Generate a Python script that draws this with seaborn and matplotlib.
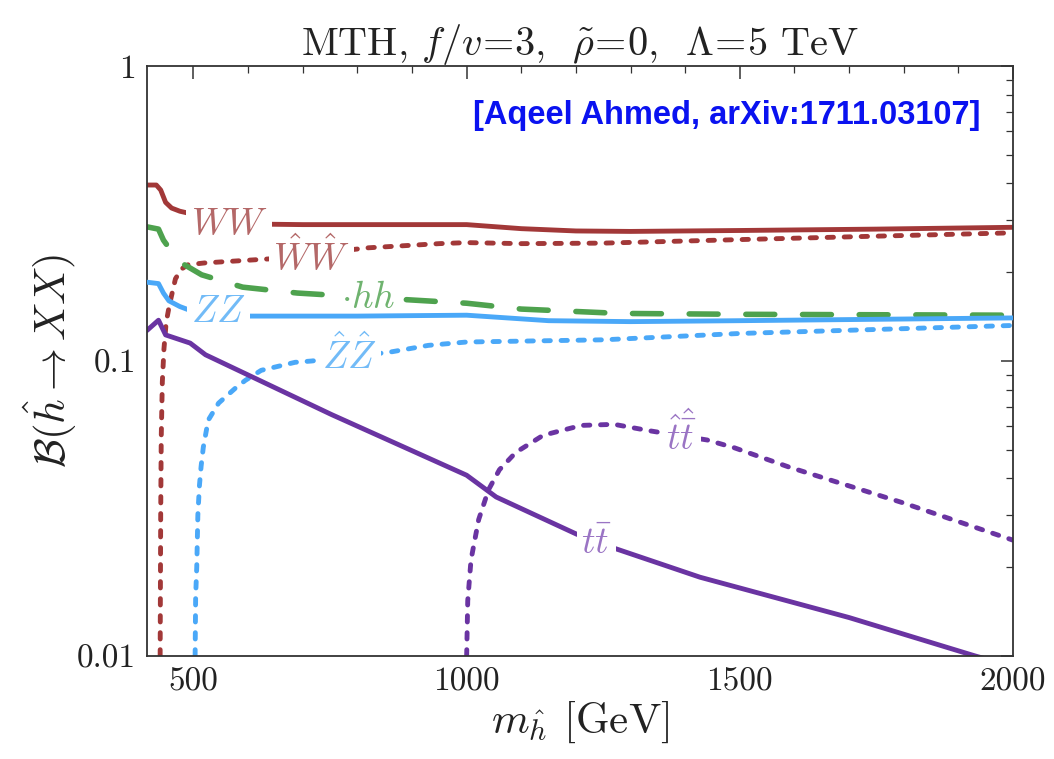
import matplotlib
matplotlib.use("Agg")
import matplotlib.pyplot as plt
import seaborn as sns
import numpy as np
from matplotlib.ticker import FixedLocator, NullFormatter, LogLocator

# Branching ratios of the twin-sector Higgs vs. its mass (GeV)
m_WW = [415, 432, 440, 449, 460, 475, 491, 520, 560, 700, 850, 1000, 1100, 1200, 1300, 1500, 1750, 2000]
br_WW = [0.395, 0.395, 0.38, 0.345, 0.33, 0.322, 0.317, 0.303, 0.292, 0.29, 0.29, 0.29, 0.281, 0.276, 0.275, 0.277, 0.28, 0.284]

m_WhWh = [439, 440, 441, 443, 446, 450, 456, 467, 478, 490, 520, 640, 820, 950, 1000, 1100, 1250, 1500, 1750, 2000]
br_WhWh = [0.01, 0.03, 0.055, 0.085, 0.11, 0.135, 0.155, 0.19, 0.205, 0.212, 0.215, 0.222, 0.242, 0.25, 0.252, 0.25, 0.251, 0.258, 0.265, 0.272]

m_hh = [415, 436, 445, 460, 478, 515, 590, 690, 900, 1000, 1100, 1280, 1500, 2000]
br_hh = [0.285, 0.28, 0.257, 0.235, 0.215, 0.196, 0.178, 0.17, 0.161, 0.157, 0.15, 0.145, 0.144, 0.143]

m_ZZ = [415, 436, 445, 455, 475, 500, 540, 800, 1000, 1150, 1300, 1500, 2000]
br_ZZ = [0.185, 0.183, 0.17, 0.16, 0.153, 0.147, 0.142, 0.142, 0.143, 0.137, 0.136, 0.137, 0.14]

m_ZhZh = [503, 504, 506, 508, 511, 514, 518, 527, 546, 577, 595, 624, 686, 716, 857, 930, 1000, 1250, 1500, 2000]
br_ZhZh = [0.01, 0.016, 0.02, 0.03, 0.038, 0.044, 0.051, 0.063, 0.072, 0.081, 0.086, 0.093, 0.099, 0.1, 0.107, 0.113, 0.116, 0.118, 0.124, 0.132]

m_tt = [415, 436, 449, 494, 522, 753, 1000, 1054, 1201, 1267, 1427, 1700, 1931, 2000]
br_tt = [0.127, 0.1375, 0.1226, 0.115, 0.105, 0.0658, 0.041, 0.0346, 0.0259, 0.0233, 0.0185, 0.0135, 0.01, 0.0092]

m_thth = [1000, 1002, 1008, 1022, 1040, 1060, 1090, 1140, 1210, 1270, 1335, 1440, 1490, 1590, 1800, 2000]
br_thth = [0.01, 0.0154, 0.0212, 0.029, 0.0366, 0.0428, 0.049, 0.056, 0.0605, 0.061, 0.058, 0.054, 0.0508, 0.0437, 0.033, 0.0247]

x_ticks = [500, 1000, 1500, 2000]
y_ticks = [0.01, 0.1, 1]
y_ticklabels = ["0.01", "0.1", "1"]

sns.set_theme(style="white")
plt.rcParams["font.family"] = ["serif"]
plt.rcParams["font.serif"] = ["cmr10", "DejaVu Serif"]
plt.rcParams["mathtext.fontset"] = "cm"
plt.rcParams["axes.formatter.use_mathtext"] = True

brown = "#a23838"
blue = "#4aa8f8"
green = "#4ea24e"
purple = "#6a34a2"

fig = plt.figure(figsize=(10.54, 7.59), dpi=100)
ax = fig.add_axes([0.1395, 0.1357, 0.8216, 0.7773])

lw = 3.5
dot = (0, (1.3, 2.2))
dash = (0, (5.2, 5.0))
solid_kw = dict(lw=lw, solid_capstyle="round", solid_joinstyle="round")
dot_kw = dict(lw=lw, linestyle=dot, dash_capstyle="round")

sns.lineplot(x=m_WW, y=br_WW, ax=ax, color=brown, **solid_kw)
sns.lineplot(x=m_WhWh, y=br_WhWh, ax=ax, color=brown, **dot_kw)
sns.lineplot(x=m_hh, y=br_hh, ax=ax, color=green, lw=4.0, linestyle=dash, dash_capstyle="round")
# ZZ sits above the hh label patch, below its own label
sns.lineplot(x=m_ZZ, y=br_ZZ, ax=ax, color=blue, zorder=6, **solid_kw)
sns.lineplot(x=m_ZhZh, y=br_ZhZh, ax=ax, color=blue, **dot_kw)
sns.lineplot(x=m_tt, y=br_tt, ax=ax, color=purple, **solid_kw)
sns.lineplot(x=m_thth, y=br_thth, ax=ax, color=purple, **dot_kw)

ax.set_yscale("log")
ax.set_xlim(415, 2000)
ax.set_ylim(0.01, 1)

# in-line curve labels, each on a white patch that breaks its own curve
lab_kw = dict(ha="center", va="center", fontsize=27, zorder=7,
              bbox=dict(boxstyle="square,pad=0.12", fc="white", ec="none"))
ax.text(565, 0.289, r"$WW$", color="#b46868", **lab_kw)
ax.text(716, 0.224, r"$\hat{W}\hat{W}$", color="#b46868", **lab_kw)
ax.text(820, 0.151, r"$\cdot hh$", color="#6fb36f", ha="center", va="baseline",
        fontsize=27, zorder=5,
        bbox=dict(boxstyle="square,pad=0.08", fc="white", ec="none"))
ax.text(546, 0.146, r"$ZZ$", color="#72bbf7", **lab_kw)
ax.text(785, 0.105, r"$\hat{Z}\hat{Z}$", color="#72bbf7", **lab_kw)
ax.text(1238, 0.0242, r"$t\bar{t}$", color="#9a74c4", **lab_kw)
ax.text(1392, 0.0565, r"$\hat{t}\hat{\bar{t}}$", color="#9a74c4", **lab_kw)

ax.text(0.962, 0.917, "[Aqeel Ahmed, arXiv:1711.03107]", transform=ax.transAxes,
        ha="right", va="center", color="#0a12f0", fontsize=23.5, fontweight="bold",
        family=["Liberation Sans Narrow", "Liberation Sans", "DejaVu Sans"])

ax.xaxis.set_major_locator(FixedLocator(x_ticks))
ax.xaxis.set_minor_locator(FixedLocator(list(range(500, 2001, 100))))
ax.set_xticklabels([str(t) for t in x_ticks])
ax.yaxis.set_major_locator(FixedLocator(y_ticks))
ax.set_yticklabels(y_ticklabels)
ax.yaxis.set_minor_locator(LogLocator(base=10, subs=np.arange(2, 10)))
ax.yaxis.set_minor_formatter(NullFormatter())

ax.tick_params(which="both", direction="in", top=True, right=True, colors="#333333",
               labelcolor="#222222", labelsize=24)
ax.tick_params(which="major", length=9, width=1.1, pad=8)
ax.tick_params(which="minor", length=5, width=0.9)
for s in ax.spines.values():
    s.set_color("#333333")
    s.set_linewidth(1.3)

ax.set_xlabel(r"$m_{\hat{h}}$ [GeV]", fontsize=31, color="#222222")
ax.xaxis.set_label_coords(0.5, -0.074)
ax.set_ylabel(r"$\mathcal{B}(\hat{h}\to XX)$", fontsize=31, color="#222222")
ax.yaxis.set_label_coords(-0.078, 0.5)
ax.set_title(r"MTH, $f/v\!=\!3$,  $\tilde{\rho}\!=\!0$,  $\Lambda\!=\!5$ TeV",
             fontsize=29, color="#222222", pad=8)

fig.savefig("out.png", dpi=100, facecolor="white")
